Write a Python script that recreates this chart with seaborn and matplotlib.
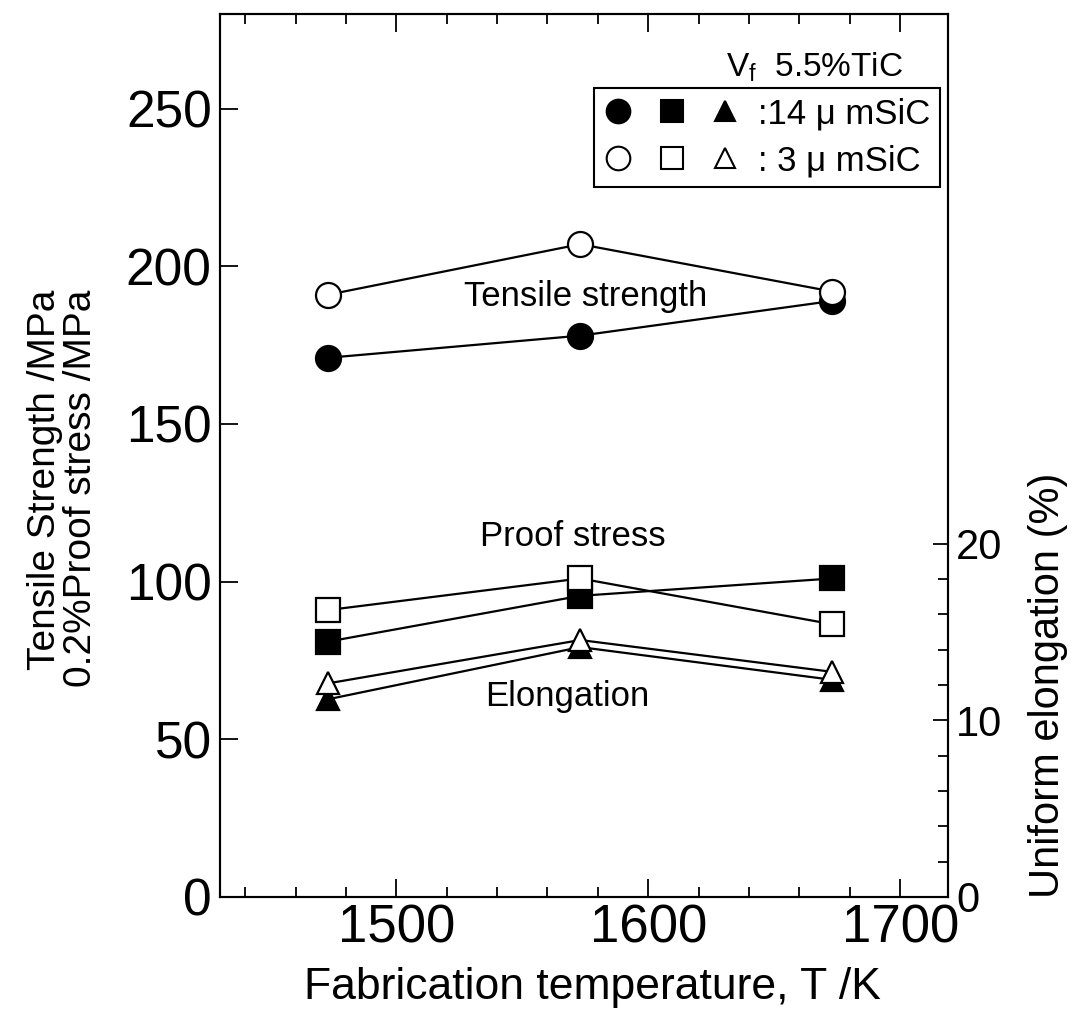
import numpy as np
import pandas as pd
import matplotlib
matplotlib.use("Agg")
import matplotlib.pyplot as plt
import seaborn as sns
from matplotlib.lines import Line2D
from matplotlib.legend_handler import HandlerTuple
from matplotlib.ticker import NullLocator

# ---------------- data ----------------
temperature = [1473, 1573, 1673]
tensile_14um = [171.0, 178.0, 189.0]
tensile_3um = [191.0, 207.0, 192.0]
proof_14um = [81.0, 95.5, 101.0]
proof_3um = [91.0, 101.0, 86.5]
elong_14um = [11.2, 14.15, 12.3]   # Uniform elongation (%), right axis
elong_3um = [12.1, 14.55, 12.75]

x_major = [1500, 1600, 1700]
left_ticks = [0, 50, 100, 150, 200, 250]
right_ticks = [0, 10, 20]

sns.set_style("ticks")
plt.rcParams["font.family"] = ["Liberation Sans", "DejaVu Sans"]
plt.rcParams["mathtext.fontset"] = "custom"
plt.rcParams["mathtext.rm"] = "Liberation Sans"
plt.rcParams["mathtext.it"] = "Liberation Sans:italic"
for k in ("text.color", "axes.labelcolor", "xtick.color", "ytick.color",
          "axes.edgecolor"):
    plt.rcParams[k] = "black"

W, H = 1092, 1017
fig = plt.figure(figsize=(W / 100, H / 100), dpi=100)
ax = fig.add_axes([220 / W, 1 - 897 / H, 728 / W, 883 / H])
ax2 = ax.twinx()

LW = 1.6


def draw(axis, y, marker, filled, ms, z):
    df = pd.DataFrame({"T": temperature, "v": y})
    sns.lineplot(data=df, x="T", y="v", ax=axis, color="black", linewidth=LW,
                 marker=marker, markersize=ms,
                 markerfacecolor="black" if filled else "white",
                 markeredgecolor="black", markeredgewidth=LW,
                 zorder=z, legend=False, sort=False)


draw(ax, tensile_14um, "o", True, 18, 3)
draw(ax, tensile_3um, "o", False, 18, 4)
draw(ax, proof_14um, "s", True, 17, 3)
draw(ax, proof_3um, "s", False, 17, 4)
draw(ax2, elong_14um, "^", True, 15.5, 3)
draw(ax2, elong_3um, "^", False, 15.5, 4)

# ---------------- axes ----------------
ax.set_xlim(1430, 1719)
ax.set_ylim(0, 280)
ax2.set_ylim(0, 50)

ax.set_xticks(x_major)
ax.set_xticks(np.arange(1440, 1720, 20), minor=True)
ax.set_yticks(left_ticks)
ax.yaxis.set_minor_locator(NullLocator())
ax2.set_yticks(right_ticks)
ax2.set_yticks(np.arange(2, 20, 2), minor=True)

ax.tick_params(axis="x", which="both", direction="in", top=True, bottom=True,
               width=1.3, color="black")
ax.tick_params(axis="x", which="major", length=13, labelsize=38, pad=5)
ax.tick_params(axis="x", which="minor", length=7)
ax.tick_params(axis="y", which="major", direction="in", left=True, right=False,
               length=13, width=1.3, labelsize=37, pad=6)
ax2.tick_params(axis="y", which="major", direction="in", length=11, width=1.3,
                labelsize=30, pad=6)
ax2.tick_params(axis="y", which="minor", direction="in", length=7, width=1.3)

for a in (ax, ax2):
    for s in a.spines.values():
        s.set_visible(True)
        s.set_linewidth(1.5)
        s.set_color("black")

ax.set_xlabel("Fabrication temperature, T /K", fontsize=32)
ax.xaxis.set_label_coords(0.511, -0.102)
ax.xaxis.label.set_va("center")

ax.set_ylabel("Tensile Strength /MPa\n0.2%Proof stress /MPa", fontsize=28,
              linespacing=1.0, multialignment="right")
ax.yaxis.set_label_coords(-0.2157, 0.463)
ax.yaxis.label.set_va("center")

ax2.set_ylabel("Uniform elongation (%)", fontsize=30, rotation=90)
ax2.yaxis.set_label_coords(1.138, 0.240)
ax2.yaxis.label.set_va("center")
ax2.yaxis.label.set_ha("center")

# ---------------- annotations ----------------
ax.text(1575, 190.3, "Tensile strength", fontsize=25, ha="center", va="center")
ax.text(1570, 114.4, "Proof stress", fontsize=25, ha="center", va="center")
ax.text(1568, 63.5, "Elongation", fontsize=25, ha="center", va="center")
ax2.text(0.938, 0.94, r"V$_\mathrm{f}$  5.5%TiC", fontsize=24, ha="right",
         va="center", transform=ax2.transAxes)

# ---------------- legend ----------------
def mk(m, ms, filled):
    return Line2D([], [], linestyle="none", marker=m, markersize=ms,
                  markerfacecolor="black" if filled else "white",
                  markeredgecolor="black", markeredgewidth=1.5)

h14 = (mk("o", 17, True), mk("s", 15.5, True), mk("^", 15, True))
h3 = (mk("o", 17, False), mk("s", 15.5, False), mk("^", 15, False))
leg = ax2.legend([h14, h3], [":14 μ mSiC", ": 3 μ mSiC"],
                 handler_map={tuple: HandlerTuple(ndivide=None, pad=0.68)},
                 loc="upper right", bbox_to_anchor=(0.989, 0.916),
                 borderaxespad=0, fontsize=25, handlelength=3.95,
                 handletextpad=0.52, borderpad=0.27, labelspacing=0.4,
                 frameon=True, fancybox=False, edgecolor="black",
                 framealpha=1)
leg.get_frame().set_linewidth(1.5)

fig.savefig("out.png", dpi=100)
